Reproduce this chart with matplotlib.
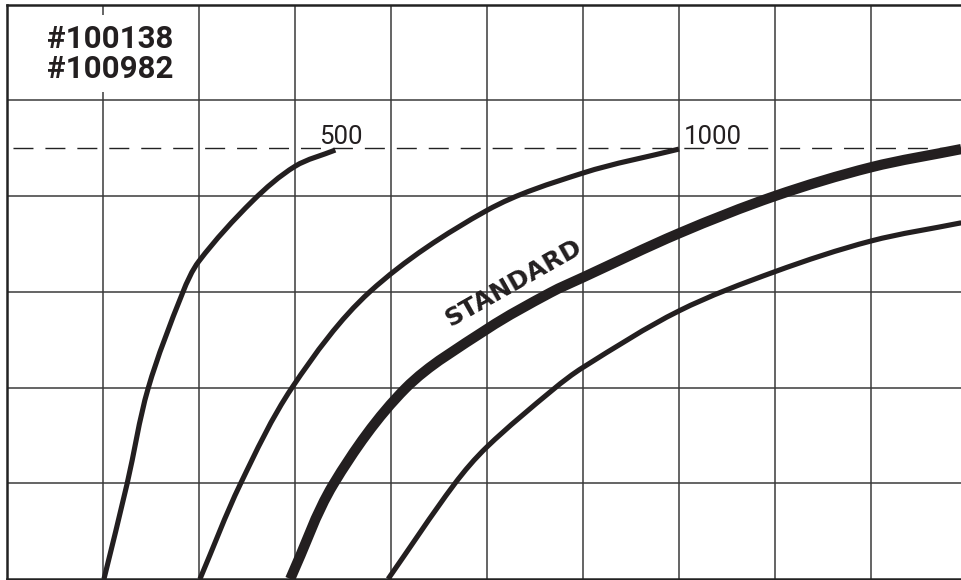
import numpy as np
import matplotlib
matplotlib.use("Agg")
import matplotlib.pyplot as plt
from matplotlib.path import Path
from matplotlib.patches import PathPatch

# Data in grid units (one grid cell = 1 unit)
curve_500_x = [1.01, 1.25, 1.47, 1.83, 2.00, 2.56, 3.00, 3.42]
curve_500_y = [0.00, 0.99, 1.99, 2.99, 3.32, 3.95, 4.31, 4.48]

curve_1000_x = [2.01, 2.43, 2.97, 3.78, 5.00, 6.00, 7.00]
curve_1000_y = [0.00, 0.99, 2.00, 3.00, 3.85, 4.24, 4.49]

standard_x = [2.95, 3.40, 4.15, 5.00, 5.66, 6.00, 7.00, 8.00, 9.00, 9.94]
standard_y = [0.00, 0.99, 1.99, 2.61, 2.99, 3.15, 3.61, 4.00, 4.30, 4.49]

curve_low_x = [3.97, 4.66, 5.00, 5.69, 6.00, 7.00, 8.00, 9.00, 9.94]
curve_low_y = [0.00, 0.99, 1.38, 1.98, 2.21, 2.80, 3.21, 3.53, 3.72]

limit_level = 4.5
grid_x = list(range(1, 10))
grid_y = list(range(1, 6))
labels = ["500", "1000"]
label_x = [3.25, 7.05]
title_text = "#100138\n#100982"
standard_label = "STANDARD"

INK = "#231f20"
GRID = "#3a3a3a"


def smooth_patch(xs, ys, lw):
    P = np.column_stack([xs, ys]).astype(float)
    n = len(P)
    seg = np.linalg.norm(np.diff(P, axis=0), axis=1)
    t = np.concatenate([[0.0], np.cumsum(seg)])
    M = np.zeros_like(P)
    for i in range(n):
        a = max(i - 1, 0)
        b = min(i + 1, n - 1)
        M[i] = (P[b] - P[a]) / (t[b] - t[a])
    verts = [P[0]]
    codes = [Path.MOVETO]
    for i in range(n - 1):
        h = seg[i]
        verts += [P[i] + M[i] * h / 3.0, P[i + 1] - M[i + 1] * h / 3.0, P[i + 1]]
        codes += [Path.CURVE4] * 3
    return PathPatch(Path(verts, codes), fill=False, lw=lw, ec=INK,
                     capstyle="butt", joinstyle="round", zorder=3)


fig = plt.figure(figsize=(9.61, 5.80), dpi=100)
W, H = 961, 580
left = 7 / W
bottom = 1 / H
top = (H - 4.5) / H
ax = fig.add_axes([left, bottom, 1 - left, top - bottom])
ax.set_xlim(0, (W - 7) / 96.0)
ax.set_ylim(0, 6)

for gx in grid_x:
    ax.axvline(gx, color=GRID, lw=1.1, zorder=1)
for gy in grid_y:
    ax.axhline(gy, color=GRID, lw=1.1, zorder=1)

ax.set_xticks([])
ax.set_yticks([])
for s in ["left", "top", "bottom"]:
    ax.spines[s].set_linewidth(1.8)
    ax.spines[s].set_color("#222222")
ax.spines["right"].set_visible(False)

# dashed limit line
ax.plot([0, 10], [limit_level, limit_level], color="#222222", lw=1.0,
        linestyle=(18.7, (14.4, 8.6)), zorder=2)

ax.add_patch(smooth_patch(curve_500_x, curve_500_y, 3.7))
ax.add_patch(smooth_patch(curve_1000_x, curve_1000_y, 3.7))
ax.add_patch(smooth_patch(standard_x, standard_y, 7.4))
ax.add_patch(smooth_patch(curve_low_x, curve_low_y, 3.7))

sans = ["Roboto", "DejaVu Sans"]
for lab, lx in zip(labels, label_x):
    ax.text(lx, 4.54, lab, fontsize=18.5, family=sans, color=INK,
            ha="left", va="baseline", zorder=4)

ax.text(0.42, 5.80, title_text, fontsize=22.5, family=sans, fontweight="bold",
        color=INK, ha="left", va="top", linespacing=1.0, zorder=4,
        bbox=dict(facecolor="white", edgecolor="none", pad=6))

ax.text(5.28, 3.09, standard_label, fontsize=18, family=["DejaVu Sans"],
        fontweight="bold", color=INK, rotation=29.5, rotation_mode="anchor",
        ha="center", va="center", zorder=4)

fig.savefig("out.png", dpi=100)
